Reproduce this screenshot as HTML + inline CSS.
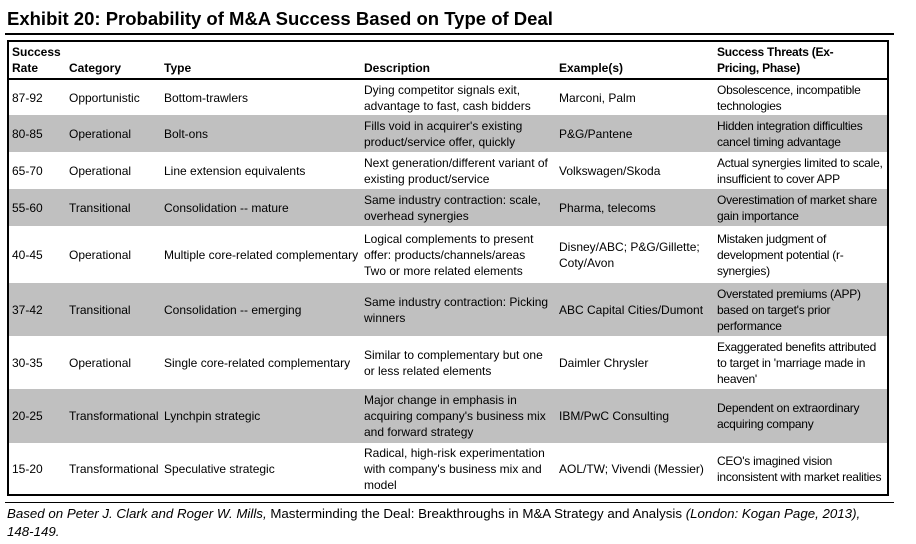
<!DOCTYPE html>
<html><head><meta charset="utf-8">
<style>
html,body{margin:0;padding:0;background:#fff;}
body{width:916px;height:544px;position:relative;overflow:hidden;font-family:"Liberation Sans",Arial,sans-serif;color:#000;}
#title{position:absolute;left:7px;top:8px;font-size:18.5px;font-weight:bold;white-space:nowrap;}
#tline{position:absolute;left:5px;top:33px;width:889px;height:2px;background:#000;}
#tbl{position:absolute;left:7px;top:40px;width:880px;border-collapse:collapse;table-layout:fixed;border:2.5px solid #000;font-size:12px;line-height:16px;}
#tbl td,#tbl th{padding:0 0 0 3px;vertical-align:middle;text-align:left;}
#tbl td:nth-child(6),#tbl th:nth-child(6){letter-spacing:-0.25px;}
#tbl th{font-weight:bold;vertical-align:bottom;padding-bottom:2px;border-bottom:2.5px solid #000;height:34px;}
#tbl tr.g td{background:#c0c0c0;}
#fline{position:absolute;left:5px;top:502px;width:889px;height:1px;background:#000;}
#foot{position:absolute;left:7px;top:505px;font-size:13.3px;line-height:18px;width:900px;}
</style></head><body>
<div id="title">Exhibit 20: Probability of M&amp;A Success Based on Type of Deal</div>
<div id="tline"></div>
<table id="tbl">
<colgroup><col style="width:58px"><col style="width:95px"><col style="width:200px"><col style="width:195px"><col style="width:158px"><col style="width:174px"></colgroup>
<tr>
<th>Success<br>Rate</th>
<th>Category</th>
<th>Type</th>
<th>Description</th>
<th>Example(s)</th>
<th>Success Threats (Ex-<br>Pricing, Phase)</th>
</tr>
<tr style="height:36px"><td>87-92</td><td>Opportunistic</td><td>Bottom-trawlers</td><td>Dying competitor signals exit, advantage to fast, cash bidders</td><td>Marconi, Palm</td><td>Obsolescence, incompatible technologies</td></tr>
<tr class="g" style="height:37px"><td>80-85</td><td>Operational</td><td>Bolt-ons</td><td>Fills void in acquirer's existing product/service offer, quickly</td><td>P&amp;G/Pantene</td><td>Hidden integration difficulties cancel timing advantage</td></tr>
<tr style="height:37px"><td>65-70</td><td>Operational</td><td>Line extension equivalents</td><td style="white-space:nowrap">Next generation/different variant of<br>existing product/service</td><td>Volkswagen/Skoda</td><td style="white-space:nowrap">Actual synergies limited to scale,<br>insufficient to cover APP</td></tr>
<tr class="g" style="height:37px"><td>55-60</td><td>Transitional</td><td>Consolidation -- mature</td><td>Same industry contraction: scale, overhead synergies</td><td>Pharma, telecoms</td><td style="white-space:nowrap">Overestimation of market share<br>gain importance</td></tr>
<tr style="height:57px"><td>40-45</td><td>Operational</td><td style="white-space:nowrap">Multiple core-related complementary</td><td style="white-space:nowrap">Logical complements to present<br>offer: products/channels/areas<br>Two or more related elements</td><td>Disney/ABC; P&amp;G/Gillette; Coty/Avon</td><td>Mistaken judgment of development potential (r-synergies)</td></tr>
<tr class="g" style="height:53px"><td>37-42</td><td>Transitional</td><td>Consolidation -- emerging</td><td>Same industry contraction: Picking winners</td><td style="white-space:nowrap">ABC Capital Cities/Dumont</td><td>Overstated premiums (APP) based on target's prior performance</td></tr>
<tr style="height:53px"><td>30-35</td><td>Operational</td><td style="white-space:nowrap">Single core-related complementary</td><td>Similar to complementary but one or less related elements</td><td>Daimler Chrysler</td><td>Exaggerated benefits attributed to target in 'marriage made in heaven'</td></tr>
<tr class="g" style="height:54px"><td>20-25</td><td style="white-space:nowrap">Transformational</td><td>Lynchpin strategic</td><td>Major change in emphasis in acquiring company's business mix and forward strategy</td><td>IBM/PwC Consulting</td><td>Dependent on extraordinary acquiring company</td></tr>
<tr style="height:52px"><td>15-20</td><td style="white-space:nowrap">Transformational</td><td>Speculative strategic</td><td>Radical, high-risk experimentation with company's business mix and model</td><td style="white-space:nowrap">AOL/TW; Vivendi (Messier)</td><td style="white-space:nowrap">CEO's imagined vision<br>inconsistent with market realities</td></tr>
</table>
<div id="fline"></div>
<div id="foot"><i>Based on Peter J. Clark and Roger W. Mills,</i> Masterminding the Deal: Breakthroughs in M&amp;A Strategy and Analysis <i>(London: Kogan Page, 2013),<br>148-149.</i></div>
</body></html>
